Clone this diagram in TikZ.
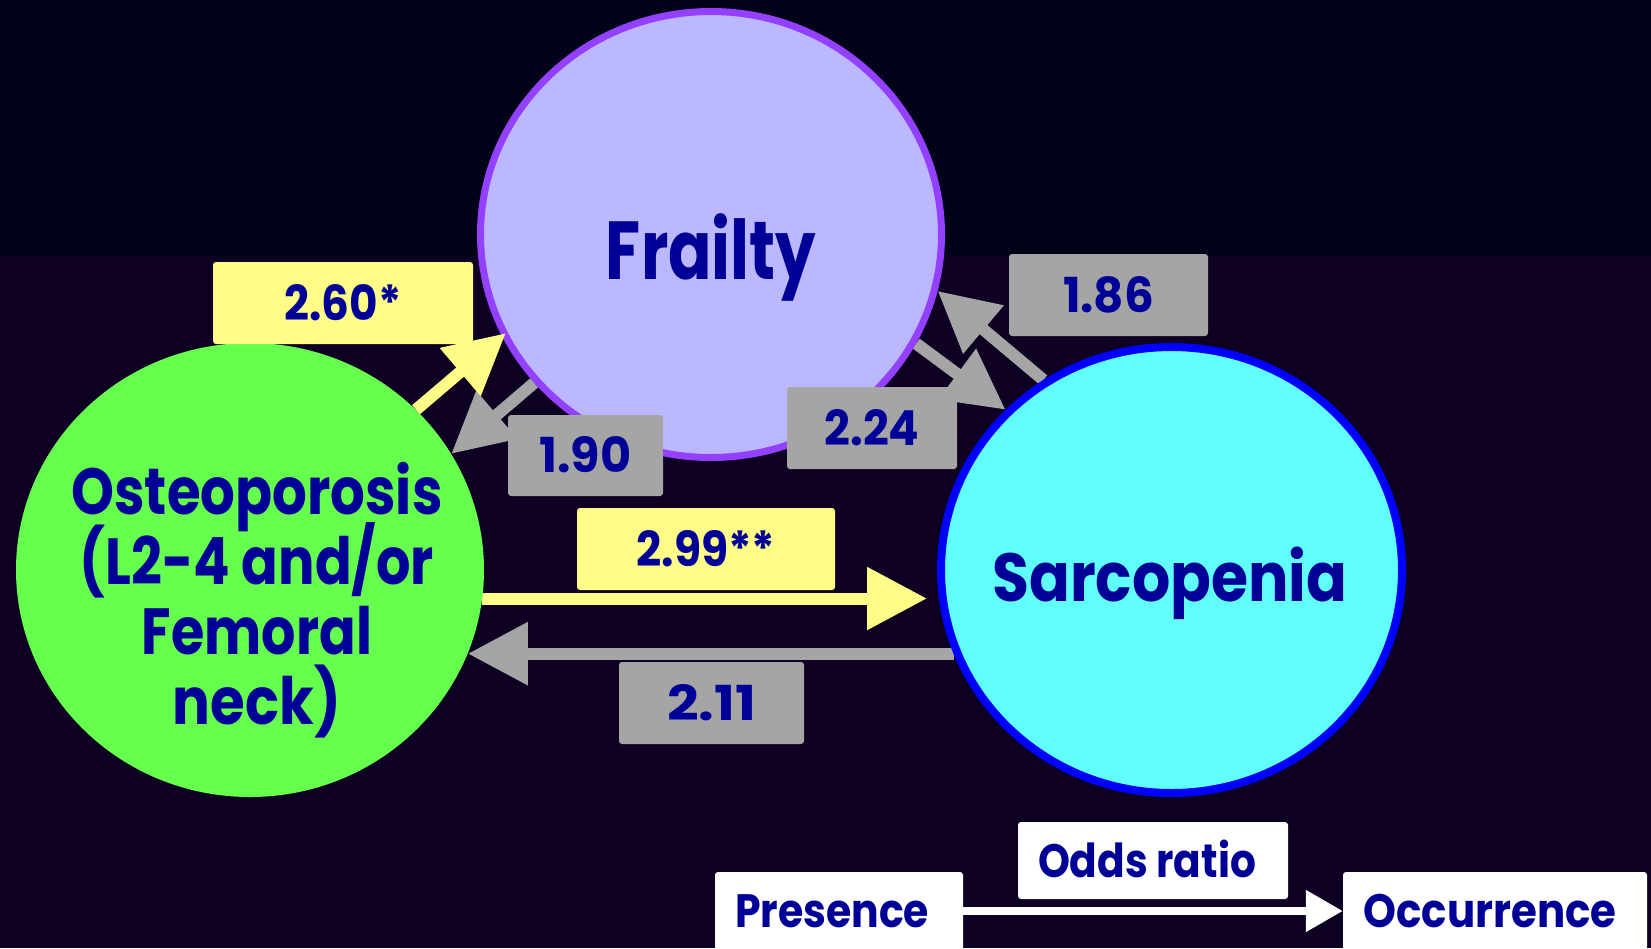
\documentclass[tikz,border=0pt]{standalone}
\usepackage{fontspec}
\setmainfont{Poppins}
\usepackage{graphicx}
\usetikzlibrary{shapes.geometric,arrows.meta}
\pgfdeclarelayer{bg}
\pgfsetlayers{bg,main}
\definecolor{bgtop}{RGB}{2,2,24}
\definecolor{bgbot}{RGB}{14,0,34}
\definecolor{txtblue}{RGB}{0,0,150}
\definecolor{lav}{RGB}{187,184,255}
\definecolor{purpleB}{RGB}{148,64,255}
\definecolor{grn}{RGB}{102,255,77}
\definecolor{cyn}{RGB}{96,255,252}
\definecolor{blueB}{RGB}{0,0,255}
\definecolor{ylw}{RGB}{255,252,136}
\definecolor{gry}{RGB}{165,165,165}
\newcommand\fitc[3]{\resizebox{#1pt}{#2pt}{\raisebox{0pt}[\fontcharht\font`\H][0pt]{#3}}}
\begin{document}
\begin{tikzpicture}[x=1pt,y=-1pt,
  lbl/.style={inner sep=0pt, text=txtblue, font=\fontsize{40}{70}\selectfont\bfseries},
  valbox/.style={rectangle, rounded corners=3pt, inner sep=0pt, text=txtblue, font=\fontsize{40}{48}\selectfont\bfseries},
  ybox/.style={valbox, fill=ylw},
  gbox/.style={valbox, fill=gry},
  wbox/.style={valbox, fill=white},
  yarr/.style={draw=ylw, line width=12pt, -{Triangle[length=60pt,width=60pt]}},
  garr/.style={draw=gry, line width=12pt, -{Triangle[length=60pt,width=60pt]}},
  warr/.style={draw=white, line width=8pt, -{Triangle[length=37pt,width=40pt]}},
  bubble/.style={ellipse, inner sep=0pt}
]
\useasboundingbox (0,0) rectangle (1651,948);
\clip (0,0) rectangle (1651,948);
\begin{pgfonlayer}{bg}
\fill[bgtop] (0,0) rectangle (1651,255);
\fill[bgbot] (0,255) rectangle (1651,948);
\end{pgfonlayer}

% circles
\node[bubble, draw=purpleB, line width=7pt, fill=lav, minimum width=461pt, minimum height=446pt] (fra) at (711,234.5) {};
\node[bubble, fill=grn, minimum width=468pt, minimum height=454pt] (ost) at (250,570) {};
\node[bubble, draw=blueB, line width=8pt, fill=cyn, minimum width=461pt, minimum height=446pt] (sar) at (1171.5,570) {};

% circle texts
\node[lbl] (tfra) at (711,250) {\fitc{210}{58}{Frailty}};
\node[lbl, align=center] (tost) at (257,596.5) {\fitc{371}{46}{Osteoporosis}\\\fitc{354}{46}{(L2-4 and/or}\\\fitc{230}{46}{Femoral}\\\fitc{168}{46}{neck)}};
\node[lbl] (tsar) at (1170,577) {\fitc{355}{48}{Sarcopenia}};

% arrows (behind circles)
\begin{pgfonlayer}{bg}
\draw[garr] (fra.220) -- (ost.30);
\draw[garr] (fra.-28) -- (sar.136);
\draw[garr] (sar.124) -- (fra.-14);
\draw[yarr, shorten >=10pt] (ost.-7) -- (ost.-7 -| sar.west);
\draw[garr] (sar.201) -- (sar.201 -| ost.-21);
\end{pgfonlayer}
\draw[yarr, shorten >=-5pt] (ost.44) -- (fra.206);

% value boxes
\node[ybox, minimum width=260pt, minimum height=82pt] (b260) at (343,303) {\fitc{117}{34}{2.60*}};
\node[gbox, minimum width=155pt, minimum height=81pt] (b190) at (585.5,455.5) {\fitc{92}{34}{1.90}};
\node[gbox, minimum width=170pt, minimum height=82pt] (b224) at (872,428) {\fitc{95}{34}{2.24}};
\node[gbox, minimum width=199pt, minimum height=82pt] (b186) at (1108.5,295) {\fitc{91}{34}{1.86}};
\node[ybox, minimum width=258pt, minimum height=82pt] (b299) at (706,549) {\fitc{139}{34}{2.99**}};
\node[gbox, minimum width=185pt, minimum height=82pt] (b211) at (711.5,703) {\fitc{89}{34}{2.11}};

% legend
\node[wbox, minimum width=270pt, minimum height=77pt] (odds) at (1153,860.5) {\fitc{218}{33}{Odds ratio}\kern12pt};
\node[wbox, minimum width=248pt, minimum height=78pt] (pres) at (839,911) {\fitc{194}{33}{Presence}\kern14pt};
\node[wbox, minimum width=304pt, minimum height=78pt] (occ) at (1495,911) {\fitc{253}{33}{Occurrence}\kern10pt};
\draw[warr] (pres.east) -- (occ.west);
\end{tikzpicture}
\end{document}
